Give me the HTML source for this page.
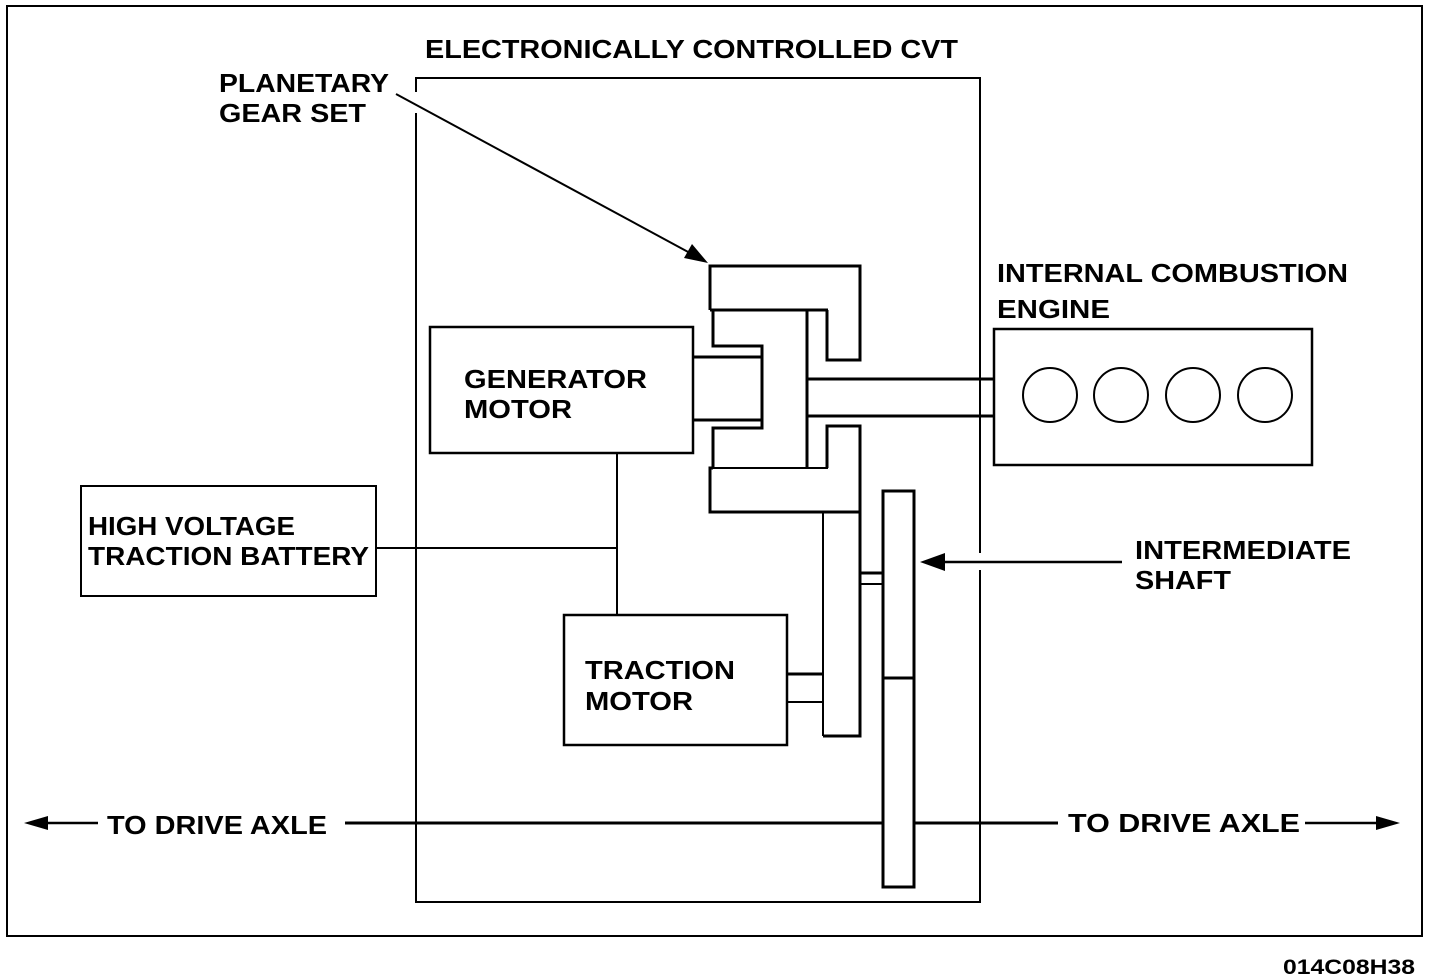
<!DOCTYPE html>
<html><head><style>html,body{margin:0;padding:0;background:#fff}svg{display:block}</style></head><body>
<svg width="1456" height="980" viewBox="0 0 1456 980" xmlns="http://www.w3.org/2000/svg" font-family="Liberation Sans, Arial, sans-serif" font-weight="bold" font-size="26">
<rect width="1456" height="980" fill="#fff"/>
<g fill="none" stroke="#000" stroke-width="2">
<rect x="7" y="6" width="1415" height="930"/>
<!-- CVT box with gaps -->
<polyline points="416,92 416,78 980,78 980,553"/>
<polyline points="416,113 416,902 980,902 980,570"/>
<!-- battery -->
<rect x="81" y="486" width="295" height="110"/>
<line x1="376" y1="548" x2="617" y2="548"/>
<line x1="617" y1="453" x2="617" y2="615"/>
<rect x="430" y="327" width="263" height="126" stroke-width="2.5"/>
<rect x="564" y="615" width="223" height="130" stroke-width="2.5"/>
<rect x="994" y="329" width="318" height="136" stroke-width="2.5"/>
<circle cx="1050" cy="395" r="27"/>
<circle cx="1121" cy="395" r="27"/>
<circle cx="1193" cy="395" r="27"/>
<circle cx="1265" cy="395" r="27"/>
<!-- planetary -->
<g stroke-width="3">
<polyline points="710,310 710,266 860,266 860,360 827,360 827,310"/>
<line x1="710" y1="310" x2="828" y2="310"/>
<polyline points="713,310 713,346 762,346 762,428 713,428 713,468"/>
<line x1="693" y1="357" x2="762" y2="357"/>
<line x1="693" y1="420" x2="762" y2="420"/>
<line x1="807" y1="310" x2="807" y2="468"/>
<line x1="807" y1="379" x2="994" y2="379"/>
<line x1="807" y1="416" x2="994" y2="416"/>
<polyline points="827,468 827,426 860,426 860,736 823,736"/>
<polyline points="713,468 710,468 710,512 860,512"/>
<line x1="823" y1="512" x2="823" y2="736" stroke-width="2"/>
<line x1="710" y1="468" x2="828" y2="468" stroke-width="2"/>
<rect x="883" y="491" width="31" height="396"/>
<line x1="883" y1="678" x2="914" y2="678"/>
<line x1="860" y1="573" x2="883" y2="573"/>
<line x1="860" y1="584" x2="883" y2="584" stroke-width="2"/>
<line x1="787" y1="674" x2="823" y2="674"/>
<line x1="787" y1="702" x2="823" y2="702" stroke-width="2"/>
<line x1="345" y1="823" x2="883" y2="823"/>
<line x1="914" y1="823" x2="1058" y2="823"/>
</g>
<line x1="940" y1="562" x2="1122" y2="562" stroke-width="2.5"/>
<line x1="40" y1="823" x2="98" y2="823" stroke-width="2.5"/>
<line x1="1305" y1="823" x2="1385" y2="823" stroke-width="2.5"/>
<line x1="396" y1="94" x2="690" y2="253" stroke-width="2"/>
</g>
<g fill="#000">
<polygon points="920,562 945,553 945,571"/>
<polygon points="24,823 48,816 48,830"/>
<polygon points="1400,823 1376,816 1376,830"/>
<polygon points="708,263 684,258 692,244"/>
</g>
<g fill="#000">
<text x="425" y="58" textLength="533" lengthAdjust="spacingAndGlyphs">ELECTRONICALLY CONTROLLED CVT</text>
<text x="219" y="92" textLength="170" lengthAdjust="spacingAndGlyphs">PLANETARY</text>
<text x="219" y="122" textLength="147" lengthAdjust="spacingAndGlyphs">GEAR SET</text>
<text x="997" y="282" textLength="351" lengthAdjust="spacingAndGlyphs">INTERNAL COMBUSTION</text>
<text x="997" y="318" textLength="113" lengthAdjust="spacingAndGlyphs">ENGINE</text>
<text x="464" y="388" textLength="183" lengthAdjust="spacingAndGlyphs">GENERATOR</text>
<text x="464" y="418" textLength="108" lengthAdjust="spacingAndGlyphs">MOTOR</text>
<text x="88" y="535" textLength="207" lengthAdjust="spacingAndGlyphs">HIGH VOLTAGE</text>
<text x="88" y="565" textLength="281" lengthAdjust="spacingAndGlyphs">TRACTION BATTERY</text>
<text x="1135" y="559" textLength="216" lengthAdjust="spacingAndGlyphs">INTERMEDIATE</text>
<text x="1135" y="589" textLength="96" lengthAdjust="spacingAndGlyphs">SHAFT</text>
<text x="585" y="679" textLength="150" lengthAdjust="spacingAndGlyphs">TRACTION</text>
<text x="585" y="710" textLength="108" lengthAdjust="spacingAndGlyphs">MOTOR</text>
<text x="107" y="834" textLength="220" lengthAdjust="spacingAndGlyphs">TO DRIVE AXLE</text>
<text x="1068" y="832" textLength="232" lengthAdjust="spacingAndGlyphs">TO  DRIVE AXLE</text>
<text x="1283" y="974" font-size="21" textLength="132" lengthAdjust="spacingAndGlyphs">014C08H38</text>
</g>
</svg>
</body></html>
